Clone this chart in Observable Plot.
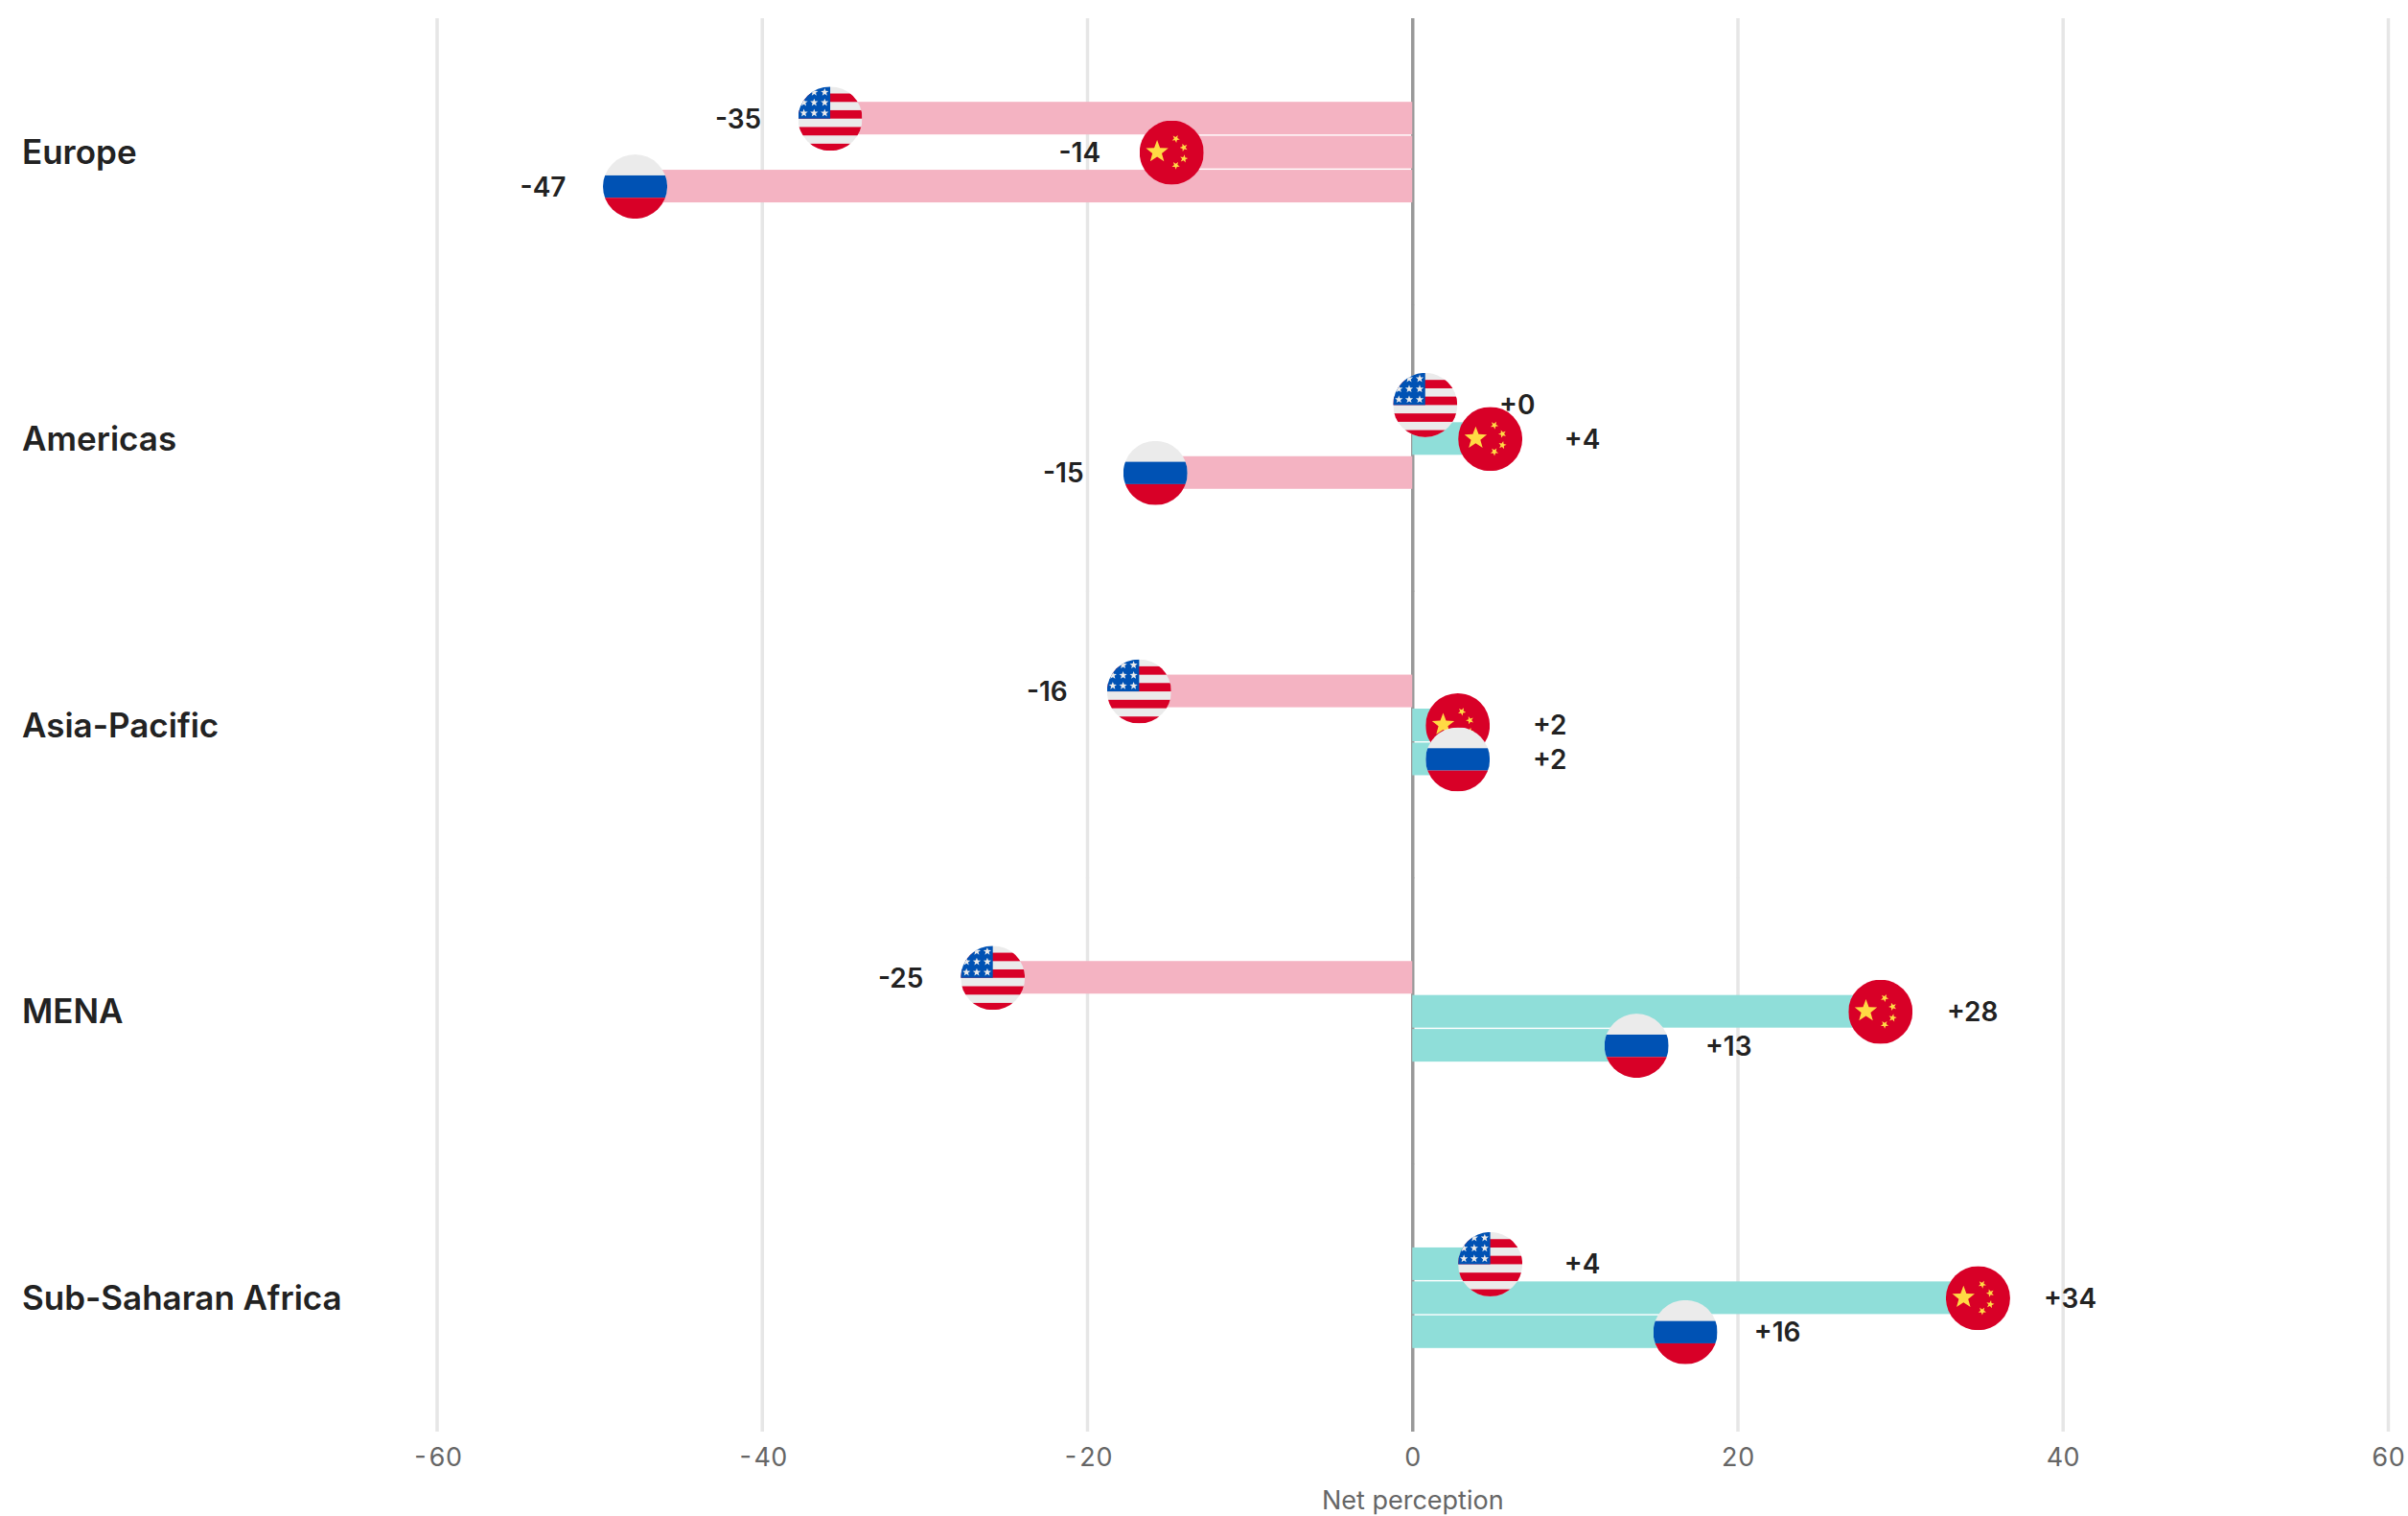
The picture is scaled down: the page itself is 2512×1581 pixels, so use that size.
<!DOCTYPE html>
<html>
<head>
<meta charset="utf-8">
<style>
html,body{margin:0;padding:0;background:#fff}
svg{display:block}
</style>
<script src="https://cdn.jsdelivr.net/npm/d3@7"></script>
<script src="https://cdn.jsdelivr.net/npm/@observablehq/plot@0.6"></script>
</head>
<body>
<div id="chart"></div>
<script>
const regions = ["Europe","Americas","Asia-Pacific","MENA","Sub-Saharan Africa"];
const countries = ["USA","China","Russia"];
const usaValues = [-35,0,-16,-25,4];
const chinaValues = [-14,4,2,28,34];
const russiaValues = [-47,-15,2,13,16];
const xTicks = [-60,-40,-20,0,20,40,60];
const xLabel = "Net perception";

const seriesByCountry = {USA:usaValues, China:chinaValues, Russia:russiaValues};
const table = regions.flatMap((region,i)=>countries.map(country=>({
  region, country, value: seriesByCountry[country][i]
})));
const lastRegion = regions[regions.length-1];
const gridCross = regions.flatMap(region=>xTicks.map(tick=>({region,tick})));

function star(cx,cy,r,fill,rot=0){
  const pts=[];
  for(let i=0;i<10;i++){
    const a=-Math.PI/2+rot+i*Math.PI/5, q=i%2?r*0.42:r;
    pts.push((cx+q*Math.cos(a)).toFixed(1)+","+(cy+q*Math.sin(a)).toFixed(1));
  }
  return `<polygon points="${pts.join(" ")}" fill="${fill}"/>`;
}
function wrap(inner){
  const svg=`<svg xmlns="http://www.w3.org/2000/svg" viewBox="0 0 512 512" width="134" height="134"><defs><clipPath id="c"><circle cx="256" cy="256" r="256"/></clipPath></defs><g clip-path="url(#c)">${inner}</g></svg>`;
  return "data:image/svg+xml;charset=utf-8,"+encodeURIComponent(svg);
}
const R="#d80027",B="#0052b4",W="#ebebeb",Y="#ffda44";
const flags={
  USA:wrap(`<rect width="512" height="512" fill="${W}"/>`+
    [[56,67],[189,67],[323,67],[456,56]].map(([y,h])=>`<rect x="0" y="${y}" width="512" height="${h}" fill="${R}"/>`).join("")+
    `<rect width="256" height="256" fill="${B}"/>`+
    [46,128,212].flatMap(x=>[46,128,212].map(y=>star(x,y,33,W))).join("")),
  China:wrap(`<rect width="512" height="512" fill="${R}"/>`+
    star(140,250,94,Y)+star(289,146,33,Y,0.5)+star(353,215,33,Y,0.9)+star(353,305,33,Y,0.2)+star(289,358,33,Y,0.6)),
  Russia:wrap(`<rect width="512" height="512" fill="${W}"/><rect y="167" width="512" height="178" fill="${B}"/><rect y="345" width="512" height="167" fill="${R}"/>`)
};

const pos=d=>d.value>=0, neg=d=>d.value<0;
const fmt=d=>(d.value>=0?"+":"")+d.value;
const font={fontSize:28,fontWeight:600,fill:"#222",dy:1};
const flagOpts={x:"value",y:"country",fy:"region",src:d=>flags[d.country],width:67,height:67};
const ruleStyle=d=>d.tick===0?"#999":"#e6e6e6";

const chart=Plot.plot({
  width:2512,height:1581,
  marginLeft:455.5,marginRight:21,marginTop:19,marginBottom:88,
  style:{fontFamily:"Inter, sans-serif",background:"#fff"},
  x:{domain:[-60,60],ticks:xTicks},
  fy:{domain:regions,paddingInner:0.065,paddingOuter:0,label:null,round:false},
  y:{domain:countries,paddingInner:0.04,paddingOuter:2.46,axis:null,round:false},
  color:{domain:["neg","pos"],range:["#f4b3c2","#8fded9"]},
  marks:[
    Plot.ruleX(gridCross.filter(d=>d.region!==lastRegion),{x:"tick",fy:"region",stroke:ruleStyle,strokeWidth:3.5,insetBottom:-20}),
    Plot.ruleX(gridCross.filter(d=>d.region===lastRegion),{x:"tick",fy:"region",stroke:ruleStyle,strokeWidth:3.5}),
    Plot.barX(table,{x:"value",y:"country",fy:"region",fill:d=>d.value<0?"neg":"pos"}),
    Plot.text(table.filter(neg),{x:"value",y:"country",fy:"region",text:fmt,dx:-110,...font}),
    Plot.text(table.filter(pos),{x:"value",y:"country",fy:"region",text:fmt,dx:109,...font}),
    Plot.image(table.filter(neg),{...flagOpts,dx:-14}),
    Plot.image(table.filter(pos),{...flagOpts,dx:13}),
    Plot.axisFy({anchor:"left",tickSize:0,tickPadding:0,textAnchor:"start",dx:-433,dy:1,fontSize:35,fontWeight:600,fill:"#222",label:null}),
    Plot.axisX(xTicks,{anchor:"bottom",tickSize:0,tickPadding:16,fontSize:27,fill:"#666",tickFormat:d=>String(d),label:xLabel,labelAnchor:"center",labelArrow:"none",labelOffset:80})
  ]
});
document.getElementById("chart").appendChild(chart);
</script>
</body>
</html>
